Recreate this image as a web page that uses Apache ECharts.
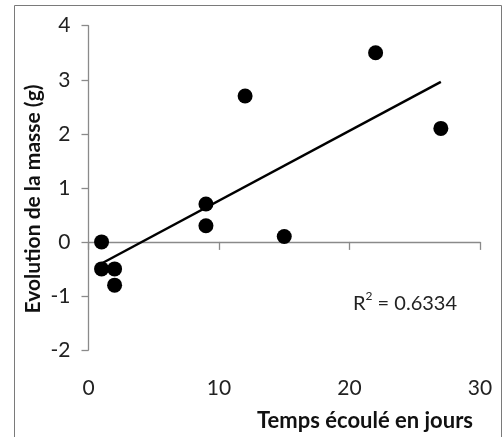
<!DOCTYPE html>
<html><head><meta charset="utf-8">
<script src="https://cdn.jsdelivr.net/npm/echarts@6/dist/echarts.min.js"></script>
<style>html,body{margin:0;padding:0;background:#fff}#c{width:504px;height:437px}</style>
</head><body><div id="c"></div>
<script>
const daysX = [1, 1, 2, 2, 9, 9, 12, 15, 22, 27];
const massY = [0, -0.5, -0.5, -0.8, 0.7, 0.3, 2.7, 0.1, 3.5, 2.1];
const trendX = [1, 27];
const trendY = [-0.40, 2.96];
const xTicks = [0, 10, 20, 30];
const yTicks = [-2, -1, 0, 1, 2, 3, 4];
const r2Text = '0.6334';

const FONT = 'Lato';
const chart = echarts.init(document.getElementById('c'));
chart.setOption({
  animation: false,
  grid: { left: 88.5, right: 24, top: 25.7, bottom: 87, containLabel: false },
  xAxis: {
    type: 'value', min: xTicks[0], max: xTicks[xTicks.length - 1], interval: 10,
    axisLine: { lineStyle: { color: '#8a8a8a', width: 1.3 } },
    axisTick: { show: true, length: 8, lineStyle: { color: '#8a8a8a', width: 1.3 } },
    splitLine: { show: false },
    axisLabel: { color: '#222', fontSize: 21, fontFamily: FONT, margin: 28 }
  },
  yAxis: {
    type: 'value', min: yTicks[0], max: yTicks[yTicks.length - 1], interval: 1,
    axisLine: { show: true, lineStyle: { color: '#8a8a8a', width: 1.3 } },
    axisTick: { show: true, length: 7, lineStyle: { color: '#8a8a8a', width: 1.3 } },
    splitLine: { show: false },
    axisLabel: { color: '#222', fontSize: 21, fontFamily: FONT, margin: 18 }
  },
  series: [
    {
      type: 'line', data: trendX.map((x, i) => [x, trendY[i]]),
      showSymbol: false, symbol: 'none',
      lineStyle: { color: '#000', width: 2.5 }, z: 2
    },
    {
      type: 'scatter', data: daysX.map((x, i) => [x, massY[i]]),
      symbol: 'circle', symbolSize: 15,
      itemStyle: { color: '#000', opacity: 1 }, z: 3
    }
  ],
  graphic: [
    { type: 'rect', shape: { x: 14.5, y: 5.5, width: 487, height: 440 },
      style: { fill: 'none', stroke: '#7a7a7a', lineWidth: 1 }, silent: true },
    { type: 'text', x: 473, y: 421,
      style: { text: 'Temps écoulé en jours', font: 'bold 22px ' + FONT, fill: '#111',
        textAlign: 'right', textVerticalAlign: 'middle' } },
    { type: 'text', x: 33, y: 199, rotation: Math.PI / 2,
      style: { text: 'Evolution de la masse (g)', font: 'bold 21px ' + FONT, fill: '#111',
        textAlign: 'center', textVerticalAlign: 'middle' } },
    { type: 'text', x: 353, y: 302,
      style: { text: '{r|R}{s|2}{r| = ' + r2Text + '}',
        rich: { r: { fontSize: 20, fontFamily: FONT, fill: '#222', verticalAlign: 'bottom', lineHeight: 24 },
                s: { fontSize: 12, fontFamily: FONT, fill: '#222', verticalAlign: 'top', lineHeight: 24, padding: [0, 0, 12, 0] } },
        textVerticalAlign: 'middle' } }
  ]
});
</script></body></html>
